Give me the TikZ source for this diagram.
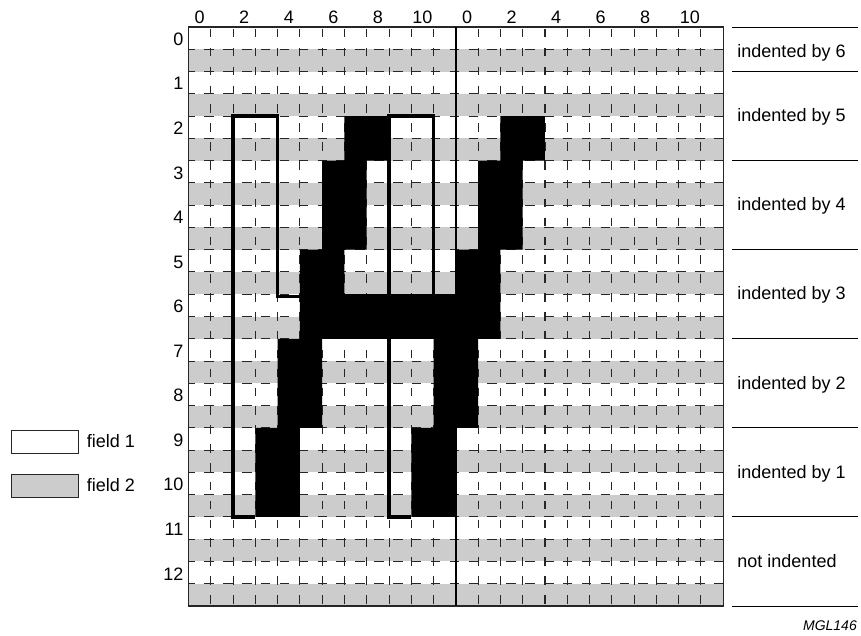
\documentclass[tikz,border=0pt]{standalone}
\usepackage{fontspec}
\setmainfont{Liberation Sans}
\usepackage{xcolor}
\usetikzlibrary{positioning}
\definecolor{bandgray}{HTML}{CCCCCC}

\begin{document}
\begin{tikzpicture}[
  x=1pt, y=-1pt,
  band/.style={fill=bandgray},
  hdash/.style={line width=1.05pt, black!85, dash pattern=on 9.5pt off 9.37pt, dash phase=3pt},
  vdash/.style={line width=1.05pt, black!85, dash pattern=on 8.5pt off 10.37pt, dash phase=16.87pt},
  glyph/.style={fill=black},
  fieldline/.style={line width=3.4pt, miter limit=10},
  frame/.style={draw=black!85, line width=1.2pt},
  rule/.style={line width=0.9pt},
  lab/.style={font=\fontsize{18}{20}\selectfont, inner sep=0pt},
  sidelab/.style={lab, anchor=west, text height=11.5pt, text depth=0pt},
  key/.style={draw=black!85, line width=1.1pt, minimum width=67pt, minimum height=23pt, inner sep=0pt}
]
  \useasboundingbox (0,0) rectangle (861,636);

  % Grid
  \begin{scope}[shift={(188.5,27)}, x=22.28pt, y=-22.27pt]
    \foreach \h in {1,3,...,25}
      \fill[band] (0,\h) rectangle (24,\h+1);
    \foreach \h in {1,...,25}
      \draw[hdash] (0,\h) -- (24,\h);
    \foreach \c in {1,...,11,13,14,...,23}
      \draw[vdash] (\c,0) -- (\c,26);

    % Character
    \fill[glyph] (7,4) -- (9,4) -- (9,6) -- (8,6) -- (8,10) -- (7,10) -- (7,12) -- (12,12)
      -- (12,10) -- (13,10) -- (13,6) -- (14,6) -- (14,4) -- (16,4) -- (16,6) -- (15,6)
      -- (15,10) -- (14,10) -- (14,14) -- (13,14) -- (13,18) -- (12,18) -- (12,22) -- (10,22)
      -- (10,18) -- (11,18) -- (11,14) -- (6,14) -- (6,18) -- (5,18) -- (5,22) -- (3,22)
      -- (3,18) -- (4,18) -- (4,14) -- (5,14) -- (5,10) -- (6,10) -- (6,6) -- (7,6) -- cycle;

    % Field outlines
    \draw[fieldline] (5,12.1) -- (4,12.1) -- (4,4) -- (2,4) -- (2,22) -- (3,22);
    \draw[fieldline] (10,22) -- (9,22) -- (9,4) -- (11,4) -- (11,12);

    \draw[frame] (0,0) rectangle (24,26);
    \draw[line width=1.6pt] (12,0) -- (12,26);

    % Numbers
    \foreach \c/\n in {0/0,2/2,4/4,6/6,8/8,10/10}{
      \node[lab] (colA\c) at ({\c+0.5},-0.45) {\n};
      \node[lab] (colB\c) at ({\c+12.5},-0.45) {\n};
    }
    \foreach \r in {0,...,12}
      \node[lab, anchor=east] (row\r) at (-0.22,{2*\r+0.55}) {\r};

    % Rules and indent labels
    \foreach \h in {0,2,6,10,14,18,22,26}
      \draw[rule] (24.4,\h) -- (30.03,\h);
    \node[sidelab] (ind6) at (24.63,1.1) {indented by 6};
    \node[sidelab] (ind5) at (24.63,4) {indented by 5};
    \node[sidelab] (ind4) at (24.63,8) {indented by 4};
    \node[sidelab] (ind3) at (24.63,12) {indented by 3};
    \node[sidelab] (ind2) at (24.63,16) {indented by 2};
    \node[sidelab] (ind1) at (24.63,20) {indented by 1};
    \node[sidelab] (ind0) at (24.63,24) {not indented};
  \end{scope}

  % Key
  \node[key, anchor=north west] (field1) at (11,429.5) {};
  \node[key, fill=bandgray, anchor=north west] (field2) at (11,473.5) {};
  \node[lab, right=7.5pt of field1] (field1lab) {field 1};
  \node[lab, right=7.5pt of field2] (field2lab) {field 2};

  \node[anchor=east, inner sep=0pt, font=\fontsize{14}{16}\selectfont\itshape] (ref) at (857,625.5) {MGL146};
\end{tikzpicture}
\end{document}
